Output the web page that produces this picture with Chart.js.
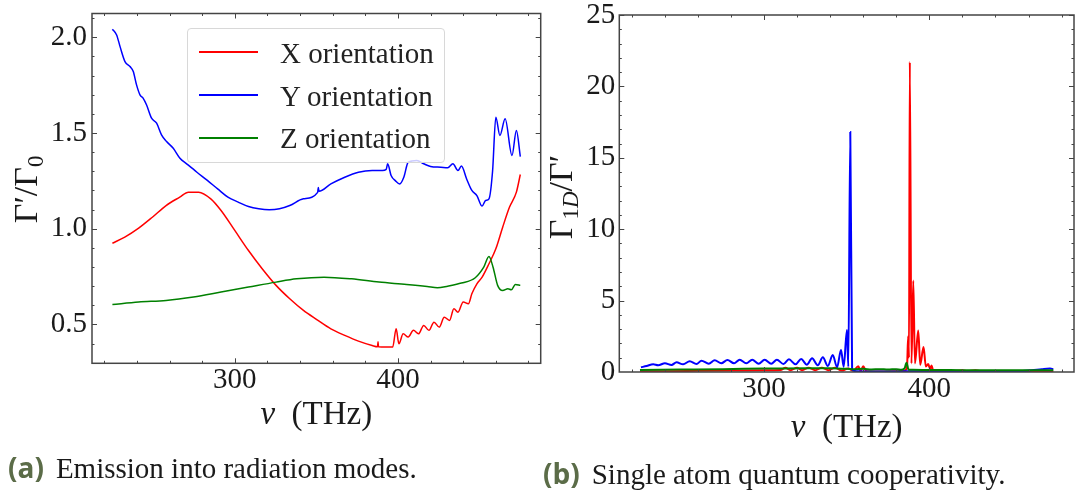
<!DOCTYPE html>
<html>
<head>
<meta charset="utf-8">
<script src="https://cdn.jsdelivr.net/npm/chart.js@4.4.1/dist/chart.umd.min.js"></script>
<style>
  body { margin: 0; background: #fff; }
  #wrap { position: relative; width: 1076px; height: 492px; overflow: hidden; }
  .box { position: absolute; top: 0; height: 460px; }
  #legendA { position: absolute; left: 187px; top: 28px; width: 258px; height: 135px;
    border: 1px solid #d8d8d8; border-radius: 4px; background: rgba(255,255,255,0.8); box-sizing: border-box; }
  #legendA .ln { position: absolute; left: 11px; width: 59px; height: 2px; }
  #legendA .tx { position: absolute; left: 92px; font: 29px "Liberation Serif", serif; line-height: 29px; color: #222; white-space: nowrap; }
  .cap { position: absolute; font: 29px "Liberation Serif", serif; line-height: 29px; color: #1a1a1a; white-space: nowrap; }
  .cap b { font-family: "Open Sans", sans-serif; font-size: 28px; color: #5b6c48; margin-right: 12px; }
</style>
</head>
<body>
<div id="wrap">
  <div class="box" style="left:0;width:545px"><canvas id="chartA"></canvas></div>
  <div class="box" style="left:545px;width:531px"><canvas id="chartB"></canvas></div>
  <div id="legendA"></div>
  <div class="cap" style="left:8px;top:453px"><b>(a)</b>Emission into radiation modes.</div>
  <div class="cap" style="left:543px;top:459px"><b>(b)</b>Single atom quantum cooperativity.</div>
</div>
<script>
// ---- data: (a) emission into radiation modes, Γ'/Γ0 vs ν (THz)
const aXx = [225, 232.6, 241.1, 249.5, 257.9, 266.3, 271.6, 277.9, 285.3, 291.6, 300.0, 308.4, 316.8, 325.3, 333.7,
  342.1, 350.5, 358.9, 367.4, 375.8, 384.2, 387.5, 387.8, 388.1, 392.6, 396.8, 398.9, 400.6, 403.2, 406.3, 409.5,
  412.6, 415.8, 419.0, 422.1, 425.3, 428.4, 431.6, 434.3, 436.8, 440.0, 443.2, 445.3, 448.4, 451.6, 455.8, 460.0,
  464.2, 468.4, 472.6, 475];
const aXy = [0.924, 0.956, 1.003, 1.060, 1.121, 1.165, 1.191, 1.191, 1.156, 1.095, 0.991, 0.886, 0.791, 0.704, 0.634,
  0.573, 0.524, 0.477, 0.443, 0.413, 0.390, 0.383, 0.41, 0.383, 0.382, 0.382, 0.477, 0.399, 0.451, 0.434, 0.469,
  0.451, 0.495, 0.469, 0.512, 0.486, 0.538, 0.521, 0.582, 0.564, 0.617, 0.608, 0.660, 0.712, 0.747, 0.817, 0.895,
  1.008, 1.113, 1.191, 1.283];

const aYx = [225.0, 227.6, 229.7, 232.7, 235.8, 237.8, 239.8, 241.9, 243.9, 245.9, 249.0, 252.1, 255.1, 258.2, 262.3,
  266.4, 270.5, 276.8, 283.2, 289.5, 295.8, 302.1, 308.4, 314.7, 321.1, 327.4, 333.7, 342.1, 350.8, 351.2, 351.6,
  358.9, 367.4, 375.8, 384.2, 390.5, 392.8, 393.7, 395.8, 398.5, 401.1, 403.6, 406.3, 411.6, 415.8, 420.0, 426.3,
  430.5, 433.7, 436.8, 438.9, 442.1, 445.3, 448.4, 451.6, 453.7, 455.8, 458.0, 460.0, 462.5, 465.7, 469.9, 472.6, 475];
const aYy = [2.042, 2.012, 1.951, 1.873, 1.847, 1.821, 1.751, 1.699, 1.681, 1.647, 1.577, 1.551, 1.490, 1.455, 1.420,
  1.368, 1.339, 1.295, 1.252, 1.208, 1.165, 1.139, 1.116, 1.104, 1.099, 1.104, 1.121, 1.156, 1.19, 1.215, 1.196,
  1.234, 1.269, 1.295, 1.304, 1.304, 1.31, 1.339, 1.278, 1.25, 1.234, 1.269, 1.347, 1.356, 1.339, 1.325, 1.321,
  1.318, 1.339, 1.304, 1.327, 1.260, 1.200, 1.173, 1.118, 1.147, 1.156, 1.3, 1.582, 1.487, 1.574, 1.382, 1.513, 1.377];

const aZx = [225, 241.1, 257.9, 274.7, 291.6, 308.4, 325.3, 337.9, 354.7, 371.6, 388.4, 405.3, 417.9, 424.2, 430.5,
  438.9, 447.4, 452.6, 455.8, 458.3, 461.1, 464.2, 467.4, 469.5, 472.0, 475];
const aZy = [0.604, 0.617, 0.625, 0.643, 0.669, 0.695, 0.721, 0.738, 0.747, 0.738, 0.721, 0.709, 0.698, 0.691, 0.700,
  0.716, 0.744, 0.799, 0.855, 0.799, 0.704, 0.677, 0.686, 0.681, 0.709, 0.704];

// ---- data: (b) single atom quantum cooperativity, Γ1D/Γ' vs ν (THz)
const bXx = [225, 240, 260, 280, 300, 310, 313, 316, 320, 323, 327, 331, 335, 339, 343, 347, 351, 354, 357, 358.5,
  360, 362, 370, 380, 385, 386.5, 387.2, 387.7, 388.2, 389.2, 390.3, 391.3, 393.3, 394.5, 396.5, 397.9, 399.3,
  400.5, 401.3, 402.5, 415, 420, 423, 428, 431, 440, 475];
const bXy = [0.05, 0.06, 0.08, 0.1, 0.12, 0.14, 0.3, 0.12, 0.3, 0.12, 0.3, 0.12, 0.3, 0.12, 0.3, 0.1, 0.25, 0.08, 0.4,
  0.08, 0.4, 0.05, 0.03, 0.05, 0.1, 0.3, 2.5, 1.0, 21.7, 0.6, 6.4, 0.6, 2.9, 0.5, 1.75, 0.38, 0.56,
  0.2, 0.45, 0.05, 0.05, 0.12, 0.05, 0.12, 0.05, 0.05, 0.03];

const bYx = [225.6, 229.0, 233.0, 236.0, 240.1, 244.1, 247.1, 251.1, 255.1, 259.2, 262.2, 266.6, 270.2, 274.2, 277.9,
  281.9, 285.3, 289.3, 292.9, 296.8, 300.4, 304.4, 307.8, 311.8, 315.1, 319.1, 322.5, 325.9, 329.1, 332.5, 335.6,
  338.6, 341.6, 344.2, 346.6, 348.2, 350.2, 351.0, 352.2, 353.3, 356, 365, 380, 390, 400, 420, 440, 455, 462, 468, 473, 475];
const bYy = [0.33, 0.42, 0.54, 0.47, 0.61, 0.49, 0.68, 0.54, 0.75, 0.56, 0.79, 0.58, 0.82, 0.61, 0.84,
  0.61, 0.86, 0.61, 0.86, 0.58, 0.86, 0.58, 0.86, 0.56, 0.89, 0.54, 0.91, 0.51, 0.96, 0.47, 1.03,
  0.42, 1.19, 0.33, 1.54, 0.37, 2.94, 0.37, 16.8, 0.19, 0.05, 0.03, 0.03, 0.06, 0.03, 0.03, 0.04, 0.06, 0.12, 0.2, 0.25, 0.2];

const bZx = [225, 250, 275, 300, 325, 340, 350, 355, 360, 365, 370, 375, 380, 383, 385, 386.2, 387.5, 390, 400, 420,
  440, 460, 475];
const bZy = [0.14, 0.17, 0.2, 0.24, 0.27, 0.26, 0.22, 0.2, 0.22, 0.18, 0.2, 0.17, 0.2, 0.15, 0.25, 0.65, 0.15, 0.15,
  0.14, 0.13, 0.12, 0.12, 0.12];

const seriesLabels = ['X orientation', 'Y orientation', 'Z orientation'];
const seriesColors = ['#ff0000', '#0000ff', '#008000'];

const xTicks = [300, 400];
const xMinor = [220, 240, 260, 280, 320, 340, 360, 380, 420, 440, 460, 480];
const aYTicks = [0.5, 1.0, 1.5, 2.0];
const aYMinor = [0.3, 0.4, 0.6, 0.7, 0.8, 0.9, 1.1, 1.2, 1.3, 1.4, 1.6, 1.7, 1.8, 1.9, 2.1];
const bYTicks = [0, 5, 10, 15, 20, 25];
const bYMinor = [];
for (let v = 1; v < 25; v++) if (v % 5) bYMinor.push(v);

const SERIF = '"Liberation Serif", "DejaVu Serif", serif';
const pts = (xs, ys) => xs.map((x, i) => ({ x, y: ys[i] }));

// inward ticks on all four sides plus the box frame
const frameTicks = {
  id: 'frameTicks',
  afterDatasetsDraw(chart, args, o) {
    const { ctx, chartArea: a, scales: { x, y } } = chart;
    ctx.save();
    ctx.strokeStyle = '#444';
    ctx.lineWidth = 1;
    ctx.beginPath();
    const xt = (vals, len) => vals.forEach(v => {
      const p = Math.round(x.getPixelForValue(v)) + 0.5;
      if (p < a.left || p > a.right) return;
      ctx.moveTo(p, a.bottom); ctx.lineTo(p, a.bottom - len);
      ctx.moveTo(p, a.top); ctx.lineTo(p, a.top + len);
    });
    const yt = (vals, len) => vals.forEach(v => {
      const p = Math.round(y.getPixelForValue(v)) + 0.5;
      if (p < a.top || p > a.bottom) return;
      ctx.moveTo(a.left, p); ctx.lineTo(a.left + len, p);
      ctx.moveTo(a.right, p); ctx.lineTo(a.right - len, p);
    });
    xt(o.xMajor, 5); xt(o.xMinor, 2.5);
    yt(o.yMajor, 5); yt(o.yMinor, 2.5);
    ctx.stroke();
    ctx.lineWidth = 1.5;
    ctx.strokeRect(a.left, a.top, a.right - a.left, a.bottom - a.top);
    ctx.restore();
  }
};

function drawRich(ctx, segs) {
  let w = 0;
  segs.forEach(s => { ctx.font = s.font; w += ctx.measureText(s.t).width; });
  let x = -w / 2;
  segs.forEach(s => {
    ctx.font = s.font;
    ctx.fillText(s.t, x, s.dy || 0);
    x += ctx.measureText(s.t).width;
  });
}

// axis titles with sub/italic parts
const axisTitles = {
  id: 'axisTitles',
  afterDraw(chart, args, o) {
    const { ctx, chartArea: a } = chart;
    ctx.save();
    ctx.fillStyle = '#1a1a1a';
    ctx.textAlign = 'left';
    ctx.textBaseline = 'alphabetic';
    ctx.save();
    ctx.translate((a.left + a.right) / 2, a.bottom + o.xGap);
    drawRich(ctx, o.xText);
    ctx.restore();
    ctx.save();
    ctx.translate(o.yBase, (a.top + a.bottom) / 2 + o.yShift);
    ctx.rotate(-Math.PI / 2);
    drawRich(ctx, o.yText);
    ctx.restore();
    ctx.restore();
  }
};

const big = '34px ' + SERIF, sub = '23px ' + SERIF, subIt = 'italic 23px ' + SERIF;
const nuTitle = [{ t: 'ν', font: 'italic 33px ' + SERIF }, { t: '\u2002(THz)', font: '33px ' + SERIF }];

function makeChart(id, sets, cfg) {
  return new Chart(document.getElementById(id), {
    type: 'line',
    data: {
      datasets: sets.map((s, i) => ({
        label: seriesLabels[i],
        data: s,
        borderColor: seriesColors[i],
        borderWidth: cfg.lw,
        pointRadius: 0,
        fill: false,
        cubicInterpolationMode: 'monotone',
        order: 3 - i
      }))
    },
    options: {
      animation: false,
      responsive: true,
      maintainAspectRatio: false,
      layout: { padding: { top: cfg.top, right: cfg.right, left: 0, bottom: 0 } },
      plugins: {
        legend: { display: false },
        tooltip: { enabled: false },
        frameTicks: { xMajor: xTicks, xMinor: xMinor, yMajor: cfg.yTicks, yMinor: cfg.yMinor },
        axisTitles: cfg.titles
      },
      scales: {
        x: {
          type: 'linear', min: 212.5, max: 487.5,
          grid: { display: false, drawTicks: false }, border: { display: false },
          ticks: { font: { family: SERIF, size: 29 }, color: '#1a1a1a', padding: 0, maxRotation: 0, autoSkip: false },
          afterBuildTicks: s => { s.ticks = xTicks.map(v => ({ value: v })); },
          afterFit: s => { s.height = cfg.xh; s.paddingLeft = 0; s.paddingRight = 0; }
        },
        y: {
          type: 'linear', min: cfg.ymin, max: cfg.ymax,
          grid: { display: false, drawTicks: false }, border: { display: false },
          ticks: { font: { family: SERIF, size: 29 }, color: '#1a1a1a', padding: cfg.ypad, callback: cfg.fmt },
          afterBuildTicks: s => { s.ticks = cfg.yTicks.map(v => ({ value: v })); },
          afterFit: s => { s.width = cfg.yw; s.paddingTop = 0; s.paddingBottom = 0; }
        }
      }
    },
    plugins: [frameTicks, axisTitles]
  });
}

const chartA = makeChart('chartA', [pts(aXx, aXy), pts(aYx, aYy), pts(aZx, aZy)], {
  lw: 1.5, top: 13.5, right: 4.3, xh: 96.7, yw: 92, ypad: 5,
  ymin: 0.297, ymax: 2.124, yTicks: aYTicks, yMinor: aYMinor, fmt: v => v.toFixed(1),
  titles: {
    xGap: 61, xText: nuTitle, yBase: 37, yShift: 1,
    yText: [{ t: 'Γ', font: big }, { t: '′', font: big }, { t: '/', font: big }, { t: 'Γ', font: big }, { t: '0', font: sub, dy: 6 }]
  }
});

const chartB = makeChart('chartB', [pts(bXx, bXy), pts(bYx, bYy), pts(bZx, bZy)], {
  lw: 2, top: 15, right: 2, xh: 88, yw: 74.3, ypad: 4,
  ymin: 0, ymax: 25, yTicks: bYTicks, yMinor: bYMinor, fmt: v => String(v),
  titles: {
    xGap: 65, xText: nuTitle, yBase: 27, yShift: 3.5,
    yText: [{ t: 'Γ', font: big }, { t: '1', font: sub, dy: 6 }, { t: 'D', font: subIt, dy: 6 }, { t: '/', font: big },
      { t: 'Γ', font: big }, { t: '′', font: big }]
  }
});

// legend for panel (a), built from the dataset labels
const legendA = document.getElementById('legendA');
chartA.data.datasets.forEach((ds, i) => {
  const cy = 23.4 + i * 42.6;
  const ln = document.createElement('div');
  ln.className = 'ln';
  ln.style.top = (cy - 1) + 'px';
  ln.style.background = ds.borderColor;
  const tx = document.createElement('div');
  tx.className = 'tx';
  tx.style.top = (cy - 13.2) + 'px';
  tx.textContent = ds.label;
  legendA.appendChild(ln);
  legendA.appendChild(tx);
});
</script>
</body>
</html>
